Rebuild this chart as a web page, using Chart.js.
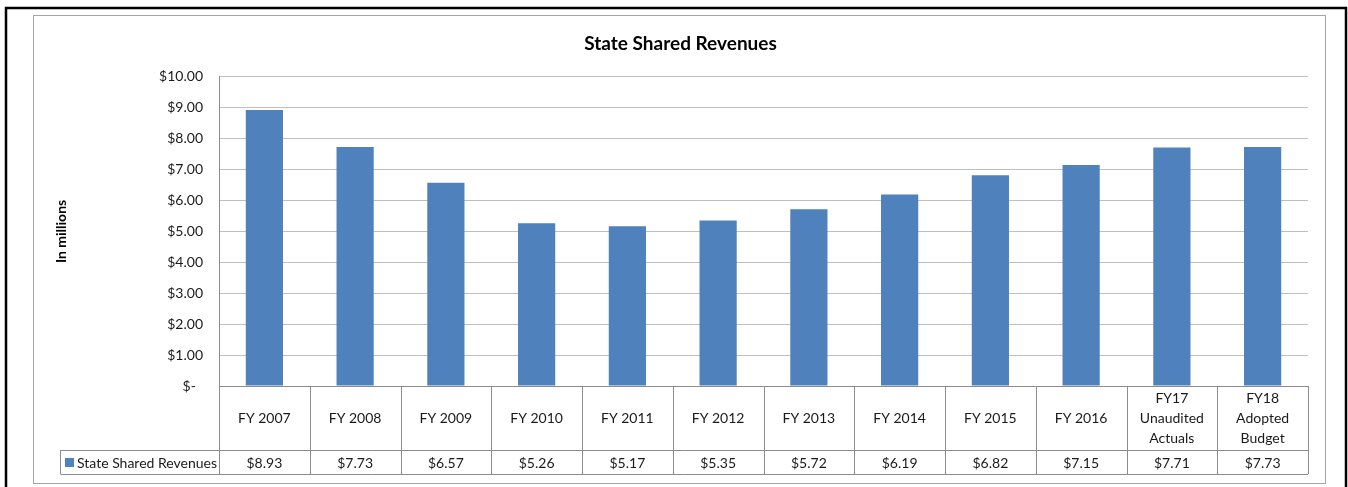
<!DOCTYPE html>
<html>
<head>
<meta charset="utf-8">
<script src="https://cdn.jsdelivr.net/npm/chart.js@4"></script>
<style>
  html, body { margin: 0; padding: 0; background: #fff; }
  #wrap { position: relative; width: 1348px; height: 487px; }
</style>
</head>
<body>
<div id="wrap"><canvas id="rev_chart" width="1348" height="487"></canvas></div>
<script>
const categories = [
  ['FY 2007'], ['FY 2008'], ['FY 2009'], ['FY 2010'], ['FY 2011'], ['FY 2012'],
  ['FY 2013'], ['FY 2014'], ['FY 2015'], ['FY 2016'],
  ['FY17', 'Unaudited', 'Actuals'], ['FY18', 'Adopted', 'Budget']
];
const revenues = [8.93, 7.73, 6.57, 5.26, 5.17, 5.35, 5.72, 6.19, 6.82, 7.15, 7.71, 7.73];
const seriesName = 'State Shared Revenues';
const yMin = 0, yMax = 10, yStep = 1;

const FONT = 'Lato, "Open Sans", sans-serif';
const BLUE = '#4f81bd';
const LINE = '#8c8c8c';

function money(v){
  return v === 0 ? '$-  ' : '$' + v.toFixed(2);
}

// outer frame + chart border
const framePlugin = {
  id: 'frame',
  beforeDraw(chart){
    const c = chart.ctx;
    c.save();
    c.fillStyle = '#fff';
    c.fillRect(0, 0, chart.width, chart.height);
    c.strokeStyle = '#000';
    c.lineWidth = 2.5;
    c.strokeRect(6, 8, 1340, 495);
    c.strokeStyle = '#a6a6a6';
    c.lineWidth = 1;
    c.strokeRect(33.5, 15.5, 1292, 468);
    c.restore();
  }
};

// data table under the plot
const tablePlugin = {
  id: 'dataTable',
  afterDraw(chart){
    const c = chart.ctx;
    const x = chart.scales.x;
    const area = chart.chartArea;
    const n = categories.length;
    const colW = (area.right - area.left) / n;
    const top = area.bottom, mid = top + 64, bot = mid + 24;
    const legL = 60.5;
    c.save();
    c.strokeStyle = LINE;
    c.lineWidth = 1;
    c.beginPath();
    c.moveTo(area.left, Math.round(top) + 0.5); c.lineTo(area.right, Math.round(top) + 0.5);
    c.moveTo(legL, Math.round(mid) + 0.5); c.lineTo(area.right, Math.round(mid) + 0.5);
    c.moveTo(legL, Math.round(bot) + 0.5); c.lineTo(area.right, Math.round(bot) + 0.5);
    c.moveTo(legL, mid); c.lineTo(legL, bot);
    for (let i = 0; i <= n; i++) {
      const px = Math.round(area.left + i * colW) + 0.5;
      c.moveTo(px, top); c.lineTo(px, bot);
    }
    c.stroke();

    c.fillStyle = '#1a1a1a';
    c.font = '14px ' + FONT;
    c.textAlign = 'center';
    c.textBaseline = 'middle';
    const lh = 20;
    categories.forEach((lines, i) => {
      const cx = x.getPixelForValue(i);
      const cy = (top + mid) / 2;
      lines.forEach((t, j) => {
        c.fillText(t, cx, cy + (j - (lines.length - 1) / 2) * lh);
      });
      c.fillText(money(revenues[i]), cx, (mid + bot) / 2 + 1);
    });

    // legend cell
    c.fillStyle = BLUE;
    c.fillRect(65, mid + 8, 9, 9);
    c.fillStyle = '#1a1a1a';
    c.textAlign = 'left';
    c.fillText(seriesName, 77, (mid + bot) / 2 + 1);
    c.restore();
  }
};

new Chart(document.getElementById('rev_chart'), {
  type: 'bar',
  data: {
    labels: categories.map(l => l.join(' ')),
    datasets: [{
      label: seriesName,
      data: revenues,
      backgroundColor: BLUE,
      borderWidth: 0,
      categoryPercentage: 1,
      barPercentage: 0.41
    }]
  },
  options: {
    responsive: false,
    animation: false,
    layout: { padding: { left: 53, right: 40, top: 0, bottom: 13 } },
    plugins: {
      legend: { display: false },
      tooltip: { enabled: false },
      title: {
        display: true,
        text: 'State Shared Revenues',
        color: '#000',
        font: { family: FONT, size: 19, weight: 'bold' },
        padding: { top: 32, bottom: 22 }
      }
    },
    scales: {
      x: {
        ticks: { display: false },
        grid: { display: false, drawTicks: false },
        border: { display: false },
        afterFit(s){ s.height = 88; }
      },
      y: {
        min: yMin, max: yMax,
        ticks: {
          stepSize: yStep,
          padding: 16,
          color: '#1a1a1a',
          font: { family: FONT, size: 14 },
          callback: v => money(v)
        },
        grid: { color: '#bfbfbf', drawTicks: false, lineWidth: 1 },
        border: { display: true, color: LINE },
        title: {
          display: true,
          text: 'In millions',
          color: '#000',
          font: { family: FONT, size: 14, weight: 'bold' },
          padding: { top: 0, bottom: 0 }
        },
        afterFit(s){ s.width = 166; }
      }
    }
  },
  plugins: [framePlugin, tablePlugin]
});
</script>
</body>
</html>
